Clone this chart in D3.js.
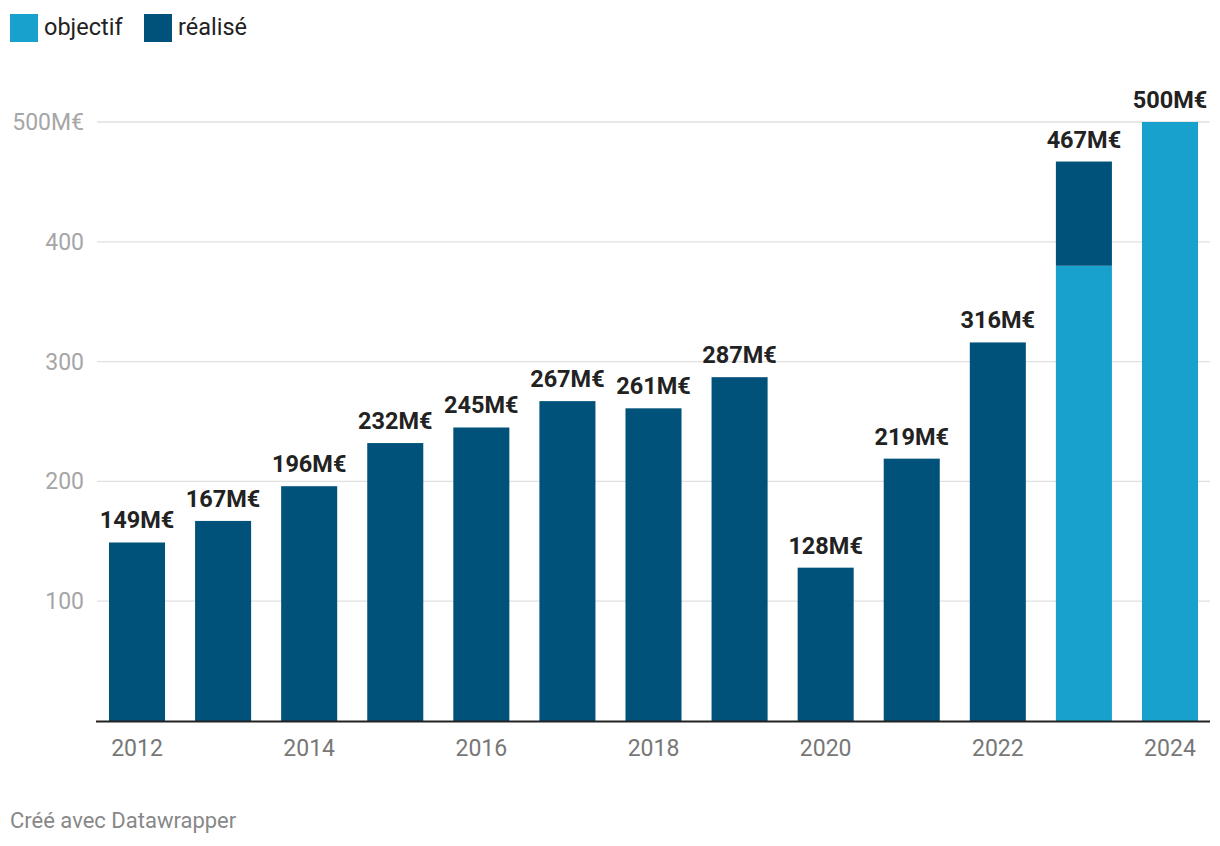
<!DOCTYPE html>
<html><head><meta charset="utf-8">
<script src="https://cdn.jsdelivr.net/npm/d3@7"></script>
<style>body{margin:0;background:#fff;font-family:Roboto,"Noto Sans",sans-serif}</style>
</head><body><svg id="c" width="1220" height="846"></svg>
<script>
const years = ["2012","2013","2014","2015","2016","2017","2018","2019","2020","2021","2022","2023","2024"];
const objectif = [0,0,0,0,0,0,0,0,0,0,0,380,500];
const realise = [149,167,196,232,245,267,261,287,128,219,316,87,0];
const totalLabels = ["149M€","167M€","196M€","232M€","245M€","267M€","261M€","287M€","128M€","219M€","316M€","467M€","500M€"];
const yTicks = [100,200,300,400,500];
const xTickLabels = ["2012","2014","2016","2018","2020","2022","2024"];
const seriesNames = ["objectif","réalisé"];
const colors = ["#18a1cd","#00527a"];

const svg = d3.select("#c");
const x = d3.scaleBand().domain(years).range([109,1198]).paddingInner(0.349).paddingOuter(0);
const y = d3.scaleLinear().domain([0,500]).range([721,122]);

const g = svg.append("g");
g.selectAll("line.grid").data(yTicks).join("line")
  .attr("x1",97).attr("x2",1210).attr("y1",d=>y(d)).attr("y2",d=>y(d))
  .attr("stroke","#e0e0e0").attr("stroke-width",1.3);
g.selectAll("text.yl").data(yTicks).join("text")
  .attr("x",84).attr("y",d=>y(d)).attr("dy","0.35em").attr("text-anchor","end")
  .attr("fill","#a6a6a6").attr("font-size",23)
  .text(d=>d===500?"500M€":d);

const rows = years.map((yr,i)=>({year:yr,objectif:objectif[i],"réalisé":realise[i]}));
const stack = d3.stack().keys(seriesNames)(rows);
stack.forEach((layer,k)=>{
  svg.append("g").attr("fill",colors[k]).selectAll("rect").data(layer).join("rect")
    .attr("x",d=>x(d.data.year)).attr("width",x.bandwidth())
    .attr("y",d=>y(d[1])).attr("height",d=>y(d[0])-y(d[1]));
});

svg.append("g").selectAll("text").data(years).join("text")
  .attr("x",d=>x(d)+x.bandwidth()/2)
  .attr("y",(d,i)=>y(objectif[i]+realise[i])-14)
  .attr("text-anchor","middle").attr("font-weight","bold").attr("font-size",23.5)
  .attr("fill","#222").text((d,i)=>totalLabels[i]);

svg.append("line").attr("x1",96).attr("x2",1210).attr("y1",y(0)+0.5).attr("y2",y(0)+0.5)
  .attr("stroke","#222").attr("stroke-width",2);

svg.append("g").selectAll("text").data(xTickLabels).join("text")
  .attr("x",d=>x(d)+x.bandwidth()/2).attr("y",756)
  .attr("text-anchor","middle").attr("font-size",23).attr("fill","#777").text(d=>d);

const lg = svg.append("g");
const lx = [10,144];
seriesNames.forEach((n,i)=>{
  lg.append("rect").attr("x",lx[i]).attr("y",14).attr("width",28).attr("height",28).attr("fill",colors[i]);
  lg.append("text").attr("x",lx[i]+34).attr("y",27).attr("dy","0.35em").attr("font-size",23.5).attr("fill","#222").text(n);
});

svg.append("text").attr("x",10).attr("y",828).attr("font-size",22).attr("fill","#888").text("Créé avec Datawrapper");
</script></body></html>
